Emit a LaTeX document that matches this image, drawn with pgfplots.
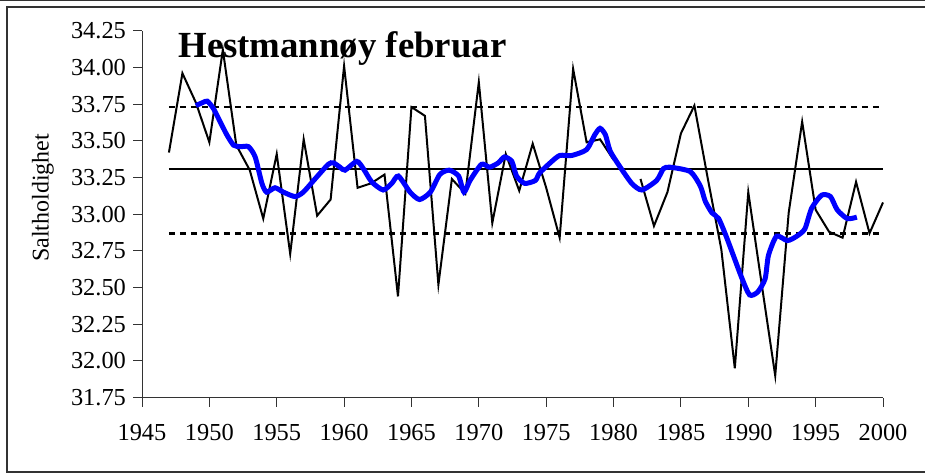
\documentclass[border=0pt]{standalone}
\usepackage{fontspec}
\setmainfont{Liberation Serif}
\usepackage{pgfplots}
\pgfplotsset{compat=1.18}
\usepackage{pgfplotstable}
\pgfplotstableread{
year val
1947 33.42
1948 33.96
1949 33.76
1950 33.49
1951 34.12
1952 33.47
1953 33.30
1954 32.97
1955 33.41
1956 32.73
1957 33.51
1958 32.99
1959 33.10
1960 34.01
1961 33.18
1962 33.21
1963 33.27
1964 32.44
1965 33.73
1966 33.67
1967 32.52
1968 33.24
1969 33.14
1970 33.90
1971 32.94
1972 33.41
1973 33.16
1974 33.48
1975 33.18
1976 32.84
1977 33.99
1978 33.49
1979 33.51
1980 33.37
1981 nan
1982 33.24
1983 32.92
1984 33.15
1985 33.55
1986 33.74
1987 33.24
1988 32.76
1989 31.95
1990 33.15
1991 32.52
1992 31.90
1993 33.01
1994 33.63
1995 33.03
1996 32.88
1997 32.84
1998 33.22
1999 32.87
2000 33.08
}\obs
\pgfplotstableread{
year val
1949.0 33.74
1949.5 33.76
1949.85 33.77
1950.3 33.72
1950.8 33.63
1951.3 33.54
1951.8 33.47
1952.3 33.46
1952.9 33.46
1953.4 33.39
1953.9 33.21
1954.25 33.15
1954.87 33.18
1955.5 33.15
1956.36 33.12
1956.97 33.15
1957.84 33.24
1958.83 33.34
1959.2 33.35
1959.7 33.32
1960.07 33.30
1960.94 33.36
1961.43 33.31
1962.05 33.22
1962.9 33.165
1963.54 33.21
1964.03 33.26
1964.9 33.15
1965.6 33.10
1966.4 33.15
1967.1 33.27
1967.8 33.30
1968.5 33.26
1968.9 33.15
1969.35 33.23
1970.2 33.34
1970.8 33.32
1971.45 33.35
1971.9 33.39
1972.45 33.36
1972.8 33.26
1973.4 33.21
1974.2 33.23
1974.5 33.28
1975.3 33.35
1976.0 33.40
1976.9 33.40
1978.0 33.44
1978.6 33.54
1979.0 33.585
1979.4 33.54
1979.75 33.43
1980.5 33.32
1981.35 33.21
1982.1 33.165
1983.2 33.23
1983.7 33.31
1984.2 33.32
1985.7 33.29
1986.45 33.19
1986.8 33.09
1987.3 33.01
1987.8 32.97
1988.4 32.84
1989.5 32.57
1990.1 32.45
1990.7 32.47
1991.25 32.56
1991.5 32.72
1992.1 32.85
1992.9 32.82
1993.6 32.85
1994.2 32.90
1994.7 33.04
1995.45 33.13
1996.1 33.12
1996.6 33.03
1997.35 32.97
1998.06 32.98
}\smoothed
\begin{document}
\begin{tikzpicture}
\path[use as bounding box] (0pt,0pt) rectangle (462.5pt,-237pt);
\begin{axis}[
  at={(71pt,-198.85pt)}, anchor=south west,
  scale only axis, width=370.5pt, height=183.5pt,
  xmin=1945, xmax=2000, ymin=31.75, ymax=34.25,
  axis lines*=left,
  axis line style={line width=0.5pt, black!80},
  tick align=outside,
  major tick length=4.5pt,
  tick style={line width=0.5pt, black!80},
  xtick={1945,1950,...,2000},
  ytick={31.75,32,32.25,32.5,32.75,33,33.25,33.5,33.75,34,34.25},
  /pgf/number format/assume math mode=true,
  xticklabel style={font=\fontsize{12.2}{14}\selectfont, /pgf/number format/1000 sep={}, yshift=-5.5pt},
  yticklabel style={font=\fontsize{12.2}{14}\selectfont, /pgf/number format/.cd, fixed, fixed zerofill, precision=2},
  unbounded coords=jump,
  clip=false,
]
\addplot[black, line width=1pt] coordinates {(1947,33.31) (2000,33.31)};
\addplot[black, line width=1.2pt, dash pattern=on 3pt off 2.5pt] coordinates {(1947,33.73) (2000,33.73)};
\addplot[black, line width=1.6pt, dash pattern=on 3pt off 2.5pt] coordinates {(1947,32.87) (2000,32.87)};
\addplot[black, line width=1pt] table[x=year,y=val] {\obs};
\addplot[color={rgb,255:red,0;green,0;blue,255}, line width=2.5pt, smooth, tension=0.4] table[x=year,y=val] {\smoothed};
\node[anchor=base west, font=\fontsize{18.4}{22}\selectfont\bfseries, inner sep=0pt] at (axis cs:1947.67,34.07) {Hestmannøy februar};
\end{axis}
\begin{scope}[x=0.5pt,y=-0.5pt]
\node[rotate=90, font=\fontsize{12}{14}\selectfont] at (43,198) {Saltholdighet};
\draw[black!80, line width=0.6pt] (0,0.6) -- (925,0.6);
\draw[black!80, line width=1pt] (930,7.5) -- (7,7.5) -- (7,472.5) -- (930,472.5);
\end{scope}
\end{tikzpicture}
\end{document}
